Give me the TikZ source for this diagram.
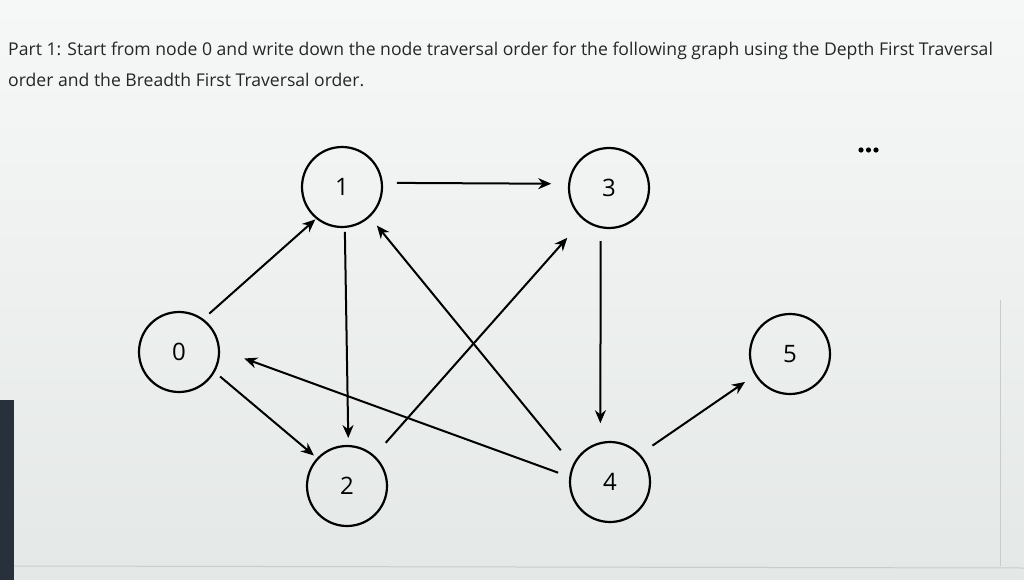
\documentclass[tikz,border=0pt]{standalone}
\usepackage{fontspec}
\setmainfont{Open Sans}
\usetikzlibrary{arrows.meta}
\definecolor{bgtop}{RGB}{246,248,247}
\definecolor{bgbot}{RGB}{228,232,231}
\definecolor{bezel}{RGB}{40,48,60}
\definecolor{edgeline}{RGB}{200,204,204}
\begin{document}
\begin{tikzpicture}[x=1pt,y=-1pt,
  vert/.style={circle,draw=black,line width=2.2pt,minimum size=80pt,inner sep=0pt,outer sep=0pt,
    font=\fontsize{24}{26}\selectfont},
  edge/.style={line width=2pt,-{Stealth[length=13pt,width=11pt]}},
  prose/.style={anchor=base west,inner sep=0pt,font=\fontsize{17.6}{20}\selectfont,text=black!85}]
\useasboundingbox (0,0) rectangle (1024,580);
\shade[top color=bgtop,bottom color=bgbot] (0,0) rectangle (1024,580);
\fill[bezel] (0,400) rectangle (14,580);
\draw[edgeline,line width=1pt] (14,566) -- (1024,568);
\draw[edgeline,line width=1pt] (1000,300) -- (1000,566);

\node[prose] (t1) at (8,56) {Part 1: Start from node 0 and write down the node traversal order for the following graph using the Depth First Traversal};
\node[prose] (t2) at (8,87) {order and the Breadth First Traversal order.};

\fill (861,150) circle (2.6) (868.5,150) circle (2.6) (876,150) circle (2.6);

\node[vert] (n0) at (179,352) {0};
\node[vert] (n1) at (342,187) {1};
\node[vert] (n3) at (609,188) {3};
\node[vert] (n2) at (347,486) {2};
\node[vert] (n4) at (610,482) {4};
\node[vert] (n5) at (790,354) {5};

\draw[edge,shorten <=9pt,shorten >=2pt] (n0.54) -- (n1.231);
\draw[edge,shorten <=15pt,shorten >=18pt] (n1.6) -- (n3.174);
\draw[edge,shorten <=5pt,shorten >=8pt] (n1.-86) -- (n2.88);
\draw[edge,shorten <=8pt,shorten >=5pt] (n0.-29) -- (n2.137);
\draw[edge,shorten <=18pt,shorten >=25pt] (n2.48) -- (n3.231);
\draw[edge,shorten <=20pt,shorten >=12pt] (n4.156) -- (n1.-47);
\draw[edge,shorten <=13pt,shorten >=27pt] (n4.173) -- (n0.4);
\draw[edge,shorten <=14pt,shorten >=20pt] (n3.258) -- (n4.104);
\draw[edge,shorten <=16pt,shorten >=13pt] (n4.43) -- (n5.211);
\end{tikzpicture}
\end{document}
